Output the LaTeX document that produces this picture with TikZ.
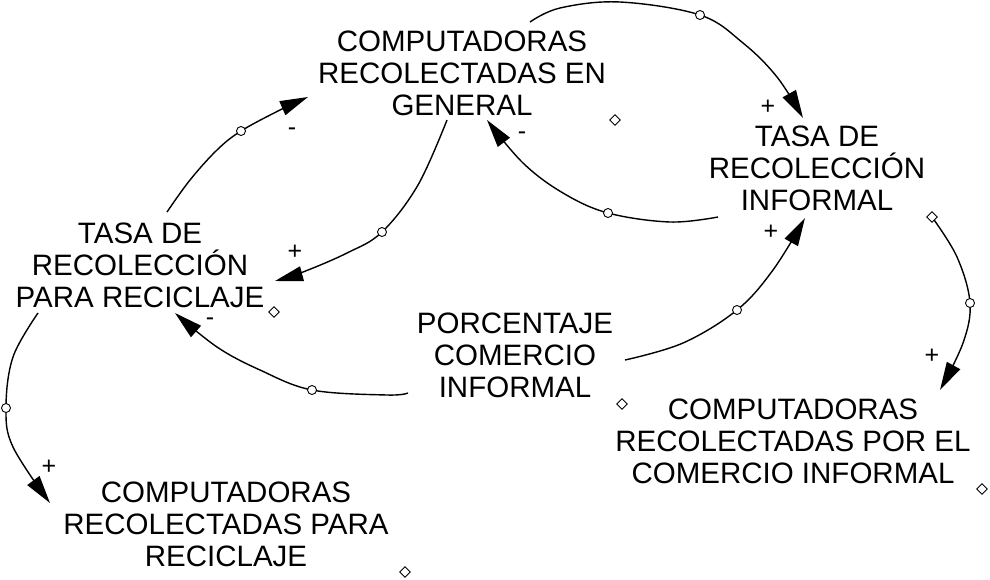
\documentclass[tikz,border=0pt]{standalone}
\usepackage{fontspec}
\setmainfont{Liberation Sans}
\usetikzlibrary{arrows.meta,shapes.geometric}
\begin{document}
\begin{tikzpicture}[x=1pt,y=-1pt,
  var/.style={align=center,inner sep=0pt,font=\fontsize{29.5}{32}\selectfont},
  arr/.style={line width=1.4pt,-{Triangle[length=28pt,width=15pt]}},
  handle/.style={circle,draw,fill=white,line width=0.9pt,minimum size=9pt,inner sep=0pt},
  dmark/.style={diamond,draw,fill=white,line width=0.9pt,minimum size=11pt,inner sep=0pt},
  sgn/.style={inner sep=0pt,font=\fontsize{25}{25}\selectfont}]
\useasboundingbox (0,0) rectangle (990,579);
\fill[white] (0,0) rectangle (990,579);

% variables
\node[var] (A) at (462,73) {COMPUTADORAS\\RECOLECTADAS EN\\GENERAL};
\node[var] (B) at (817,168) {TASA DE\\RECOLECCIÓN\\INFORMAL};
\node[var] (C) at (140,265) {TASA DE\\RECOLECCIÓN\\PARA RECICLAJE};
\node[var] (D) at (515,355) {PORCENTAJE\\COMERCIO\\INFORMAL};
\node[var] (E) at (793,441) {COMPUTADORAS\\RECOLECTADAS POR EL\\COMERCIO INFORMAL};
\node[var] (F) at (226,524) {COMPUTADORAS\\RECOLECTADAS PARA\\RECICLAJE};

% connector end points
\coordinate (CAs) at (167,212); \coordinate (CAe) at (308,97);
\coordinate (ABs) at (530,22);  \coordinate (ABe) at (803,118);
\coordinate (BAs) at (718,217); \coordinate (BAe) at (487,120);
\coordinate (ACs) at (447,120); \coordinate (ACe) at (275,281);
\coordinate (DCs) at (408,393); \coordinate (DCe) at (175,313);
\coordinate (DBs) at (625,360); \coordinate (DBe) at (805,218);
\coordinate (BEs) at (932,217); \coordinate (BEe) at (940,390);
\coordinate (CFs) at (38,313);  \coordinate (CFe) at (50,503);

% handles
\coordinate (hCA) at (241,131);
\coordinate (hAB) at (700,15);
\coordinate (hBA) at (608,213);
\coordinate (hAC) at (382,232);
\coordinate (hDC) at (312,390);
\coordinate (hDB) at (737,310);
\coordinate (hBE) at (970,303);
\coordinate (hCF) at (6,408);

% connectors
\draw[arr] plot[smooth,tension=0.6] coordinates {(CAs) (190,180) (217,150) (hCA) (280,110) (CAe)};
\draw[arr] plot[smooth,tension=0.6] coordinates {(ABs) (560,8) (620,2) (hAB) (743,43) (777,77) (ABe)};
\draw[arr] plot[smooth,tension=0.6] coordinates {(BAs) (670,222) (hBA) (563,193) (523,163) (BAe)};
\draw[arr] plot[smooth,tension=0.6] coordinates {(ACs) (418,185) (hAC) (347,253) (303,272) (ACe)};
\draw[arr] plot[smooth,tension=0.6] coordinates {(DCs) (387,395) (hDC) (260,370) (217,347) (DCe)};
\draw[arr] plot[smooth,tension=0.6] coordinates {(DBs) (683,343) (hDB) (773,270) (DBe)};
\draw[arr] plot[smooth,tension=0.6] coordinates {(BEs) (957,257) (hBE) (963,343) (BEe)};
\draw[arr] plot[smooth,tension=0.6] coordinates {(CFs) (13,357) (hCF) (13,447) (CFe)};

\foreach \h in {hCA,hAB,hBA,hAC,hDC,hDB,hBE,hCF} \node[handle] at (\h) {};

% diamonds
\node[dmark] (mA) at (615,120) {};
\node[dmark] (mB) at (932,217) {};
\node[dmark] (mC) at (274,312) {};
\node[dmark] (mD) at (622,404) {};
\node[dmark] (mE) at (982,489) {};
\node[dmark] (mF) at (405,572) {};

% polarity signs
\node[sgn] (s1) at (292,132) {-};
\node[sgn] (s2) at (768,107) {+};
\node[sgn] (s3) at (522,136) {-};
\node[sgn] (s4) at (295,252) {+};
\node[sgn] (s5) at (210,322) {-};
\node[sgn] (s6) at (771,232) {+};
\node[sgn] (s7) at (932,356) {+};
\node[sgn] (s8) at (49,467) {+};
\end{tikzpicture}
\end{document}
